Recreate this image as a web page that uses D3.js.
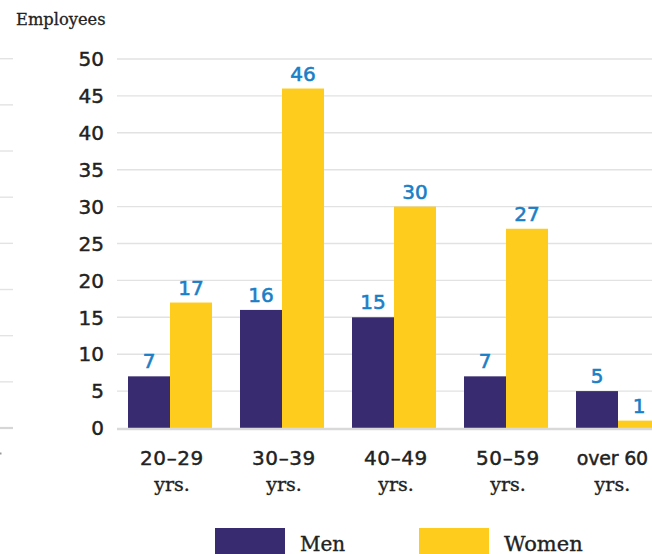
<!DOCTYPE html>
<html>
<head>
<meta charset="utf-8">
<script src="https://cdn.jsdelivr.net/npm/d3@7"></script>
<style>
  html, body { margin: 0; padding: 0; background: #fff; overflow: hidden; }
  svg { display: block; }
</style>
</head>
<body>
<svg id="chart" width="652" height="554"></svg>
<script>
// Employees by age group and gender
const ageGroups = ["20–29", "30–39", "40–49", "50–59", "over 60"];
const ageSuffix = ["yrs.", "yrs.", "yrs.", "yrs.", "yrs."];
const seriesNames = ["Men", "Women"];
const menValues = [7, 16, 15, 7, 5];
const womenValues = [17, 46, 30, 27, 1];
const yTicks = [0, 5, 10, 15, 20, 25, 30, 35, 40, 45, 50];
const colors = ["#382b70", "#fecc1c"];

const svg = d3.select("#chart");
const W = 652, H = 554;

const numFont = "'DejaVu Sans', sans-serif";
const slabFont = "'DejaVu Serif', serif";
const ink = "#222";

// Slightly heavier text: fill plus a thin matching stroke
function heavy(sel, color, w) {
  return sel.attr("fill", color).attr("stroke", color).attr("stroke-width", w);
}

// Scales
const y = d3.scaleLinear().domain([0, 50]).range([428, 59]);
const x0 = d3.scaleBand().domain(ageGroups).range([114, 674]).paddingInner(0.25).paddingOuter(0.125);
const x1 = d3.scaleBand().domain(seriesNames).range([0, x0.bandwidth()]);

// Edge of the neighbouring panel's grid on the far left
const yLeft = d3.scaleLinear().domain([0, 8]).range([428, 58.7]);
svg.append("g").selectAll("line").data(d3.range(0, 9)).join("line")
  .attr("x1", 0).attr("x2", 13)
  .attr("y1", d => yLeft(d)).attr("y2", d => yLeft(d))
  .attr("stroke", d => d === 0 ? "#d6d6d6" : "#e3e3e3")
  .attr("stroke-width", d => d === 0 ? 2.2 : 1.4);
svg.append("rect").attr("x", 0).attr("y", 452.5).attr("width", 1.5).attr("height", 2).attr("fill", "#999");

// Gridlines
const grid = svg.append("g");
grid.selectAll("line").data(yTicks.filter(d => d !== 0)).join("line")
  .attr("x1", 117).attr("x2", W)
  .attr("y1", d => y(d)).attr("y2", d => y(d))
  .attr("stroke", "#e2e2e2").attr("stroke-width", 1.4);

// Y tick labels
svg.append("g").selectAll("text").data(yTicks).join("text")
  .attr("x", 104).attr("y", d => y(d))
  .attr("dy", "0.36em")
  .attr("text-anchor", "end")
  .attr("font-family", numFont)
  .attr("font-size", 20)
  .call(heavy, ink, 0.45)
  .text(d => d);

// Axis title
svg.append("text")
  .attr("x", 16).attr("y", 25)
  .attr("font-family", slabFont)
  .attr("font-size", 16.3)
  .call(heavy, ink, 0.3)
  .text("Employees");

// Bars
const rows = ageGroups.map((g, i) => ({ group: g, values: [
  { key: "Men", value: menValues[i], ci: 0 },
  { key: "Women", value: womenValues[i], ci: 1 }
]}));

const groups = svg.append("g").selectAll("g").data(rows).join("g")
  .attr("transform", d => `translate(${x0(d.group)},0)`);

groups.selectAll("rect").data(d => d.values).join("rect")
  .attr("x", d => x1(d.key))
  .attr("y", d => y(d.value))
  .attr("width", x1.bandwidth())
  .attr("height", d => y(0) - y(d.value))
  .attr("fill", d => colors[d.ci]);

// Value labels
groups.selectAll("text.val").data(d => d.values).join("text")
  .attr("class", "val")
  .attr("x", d => x1(d.key) + x1.bandwidth() / 2)
  .attr("y", d => y(d.value) - 8)
  .attr("text-anchor", "middle")
  .attr("font-family", numFont)
  .attr("font-size", 20)
  .call(heavy, "#1a7fc6", 0.6)
  .text(d => d.value);

// Baseline
svg.append("line")
  .attr("x1", 117).attr("x2", W)
  .attr("y1", y(0) + 1).attr("y2", y(0) + 1)
  .attr("stroke", "#d9d9d9").attr("stroke-width", 2.4);

// Category labels (kept inside the right edge)
const cat = svg.append("g").selectAll("g").data(ageGroups).join("g");
const line1 = cat.append("text")
  .attr("y", 465)
  .attr("text-anchor", "middle")
  .attr("font-family", numFont)
  .attr("font-size", d => /^\d/.test(d) ? 20 : 19)
  .attr("letter-spacing", d => /^\d/.test(d) ? 0.6 : -0.2)
  .call(heavy, ink, 0.45)
  .text(d => d);
cat.append("text")
  .attr("y", 491)
  .attr("text-anchor", "middle")
  .attr("font-family", slabFont)
  .attr("font-size", 19)
  .call(heavy, ink, 0.35)
  .text((d, i) => ageSuffix[i]);
line1.each(function (d) {
  const half = this.getComputedTextLength() / 2;
  const cx = Math.min(x0(d) + x0.bandwidth() / 2 + 2, W - 4 - half);
  d3.select(this.parentNode).attr("transform", `translate(${cx},0)`);
});

// Legend
const legendX = [215, 419];
const legendFont = [20, 21];
const legend = svg.append("g").selectAll("g").data(seriesNames).join("g")
  .attr("transform", (d, i) => `translate(${legendX[i]},528)`);
legend.append("rect")
  .attr("width", 70).attr("height", 30)
  .attr("fill", (d, i) => colors[i]);
legend.append("text")
  .attr("x", 85).attr("y", 22.5)
  .attr("font-family", slabFont)
  .attr("font-size", (d, i) => legendFont[i])
  .call(heavy, ink, 0.35)
  .text(d => d);
</script>
</body>
</html>
